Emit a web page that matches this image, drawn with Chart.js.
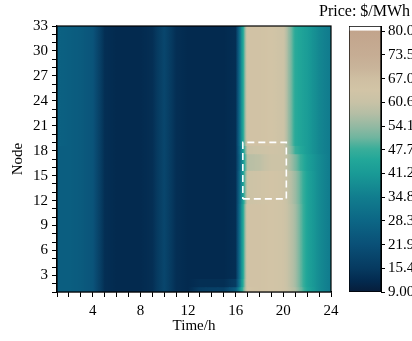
<!DOCTYPE html>
<html>
<head>
<meta charset="utf-8">
<script src="https://cdn.jsdelivr.net/npm/chart.js@4.4.1/dist/chart.umd.min.js"></script>
<style>
  html, body { margin: 0; padding: 0; background: #fff; overflow: hidden; }
  #wrap { position: relative; width: 412px; height: 341px; overflow: hidden; }
  #main { position: absolute; left: 0; top: 0; }
  #bar { position: absolute; left: 330px; top: 0; }
  #unit { position: absolute; left: 319px; top: 2px; font: 16px "Liberation Serif", serif; color: #000; white-space: nowrap; }
</style>
</head>
<body>
<div id="wrap">
  <canvas id="main" width="412" height="341"></canvas>
  <canvas id="bar" width="110" height="341"></canvas>
  <div id="unit">Price: $/MWh</div>
</div>
<script>
// hours and nodes
const hours = [1, 2, 3, 4, 5, 6, 7, 8, 9, 10, 11, 12, 13, 14, 15, 16, 17, 18, 19, 20, 21, 22, 23, 24];
const nodes = [1, 2, 3, 4, 5, 6, 7, 8, 9, 10, 11, 12, 13, 14, 15, 16, 17, 18, 19, 20, 21, 22, 23, 24, 25, 26, 27, 28, 29, 30, 31, 32, 33];

// price ($/MWh) per hour for groups of nodes
const priceNode1  = [26, 26, 25, 23, 13, 12, 12, 12, 13, 19, 13, 12, 16, 17, 17, 25, 64, 65, 64, 63, 57, 45, 38, 34];
const priceNode2  = [26, 26, 25, 23, 13, 12, 12, 12, 13, 19, 13, 12, 13, 13, 13, 16, 65, 65, 64, 63, 56, 44, 38, 34];
const priceLower  = [26, 26, 25, 23, 13, 12, 12, 12, 13, 19, 13, 12, 12, 12, 12, 13, 65, 65, 64, 63, 56, 44, 38, 34]; // nodes 3-11
const priceBoxLow = [26, 26, 25, 23, 13, 12, 12, 12, 13, 19, 13, 12, 12, 12, 12, 13, 62, 63, 64, 63, 55, 44, 38, 34]; // nodes 12-15
const priceBoxTop = [26, 26, 25, 23, 13, 12, 12, 12, 13, 19, 13, 12, 12, 12, 12, 13, 58, 59, 62, 62, 52, 43, 38, 34]; // nodes 16-17
const priceNode18 = [26, 26, 25, 23, 13, 12, 12, 12, 13, 19, 13, 12, 12, 12, 12, 13, 61, 62, 63, 62, 48, 42, 37, 34];
const priceUpper  = [27, 26, 25, 23, 13, 12, 12, 12, 13, 19, 13, 12, 12, 12, 12, 13, 65, 65, 64, 62, 46, 42, 37, 34]; // nodes 19-33

// highlighted window (dashed box)
const boxTimes = [16.6, 20.25];
const boxNodes = [12.2, 19.0];

// colour bar
const barRange = [9.0, 81.4];
const barTickValues = [9.00, 15.45, 21.91, 28.36, 34.82, 41.27, 47.73, 54.18, 60.64, 67.09, 73.55, 80.00];
const barTickLabels = ['9.00', '15.4', '21.9', '28.3', '34.8', '41.2', '47.7', '54.1', '60.6', '67.0', '73.5', '80.0'];

const cmapStops = [
  [9,    [7, 29, 58]],
  [12,   [3, 42, 79]],
  [15.4, [6, 58, 96]],
  [21.9, [10, 80, 119]],
  [28.3, [12, 102, 133]],
  [34.8, [17, 125, 142]],
  [41.2, [25, 154, 150]],
  [45,   [34, 167, 153]],
  [48,   [58, 174, 154]],
  [51,   [111, 181, 159]],
  [54.1, [147, 185, 162]],
  [57.5, [180, 190, 165]],
  [60.6, [200, 194, 166]],
  [64,   [210, 196, 166]],
  [67,   [207, 191, 162]],
  [70,   [201, 180, 154]],
  [73.5, [198, 173, 148]],
  [80,   [194, 164, 140]],
  [80.3, [255, 255, 255]]
];

const serif = '"Liberation Serif", "Times New Roman", serif';
const font15 = { family: serif, size: 15 };

function cmap(v) {
  if (v <= cmapStops[0][0]) return 'rgb(' + cmapStops[0][1].join(',') + ')';
  for (let i = 1; i < cmapStops.length; i++) {
    const [v1, c1] = cmapStops[i];
    if (v <= v1) {
      const [v0, c0] = cmapStops[i - 1];
      const f = (v - v0) / (v1 - v0);
      const c = c0.map((a, k) => Math.round(a + (c1[k] - a) * f));
      return 'rgb(' + c.join(',') + ')';
    }
  }
  return 'rgb(' + cmapStops[cmapStops.length - 1][1].join(',') + ')';
}

function rowFor(n) {
  if (n === 1) return priceNode1;
  if (n === 2) return priceNode2;
  if (n <= 11) return priceLower;
  if (n <= 15) return priceBoxLow;
  if (n <= 17) return priceBoxTop;
  if (n === 18) return priceNode18;
  return priceUpper;
}

// each cell shades smoothly toward its neighbours, like the bilinear map
function cellFill(ctx, n) {
  const chart = ctx.chart;
  if (!chart.chartArea || ctx.type !== 'data') return 'rgba(0,0,0,0)';
  const row = rowFor(n);
  const i = ctx.dataIndex;
  const xs = chart.scales.x;
  const x0 = xs.getPixelForValue(hours[i] - 0.5);
  const x1 = xs.getPixelForValue(hours[i] + 0.5);
  const v = row[i];
  const vl = i > 0 ? (row[i - 1] + v) / 2 : v;
  const vr = i < row.length - 1 ? (row[i + 1] + v) / 2 : v;
  const g = chart.ctx.createLinearGradient(x0, 0, x1, 0);
  for (let k = 0; k <= 12; k++) {
    const f = k / 12;
    const val = f < 0.5 ? vl + (v - vl) * f * 2 : v + (vr - v) * (f - 0.5) * 2;
    g.addColorStop(f, cmap(val));
  }
  return g;
}

function barFill(ctx) {
  const chart = ctx.chart;
  if (!chart.chartArea) return 'rgba(0,0,0,0)';
  const ys = chart.scales.y;
  const y0 = ys.getPixelForValue(barRange[0]);
  const y1 = ys.getPixelForValue(barRange[1]);
  const g = chart.ctx.createLinearGradient(0, y0, 0, y1);
  const span = barRange[1] - barRange[0];
  g.addColorStop(0, cmap(barRange[0]));
  cmapStops.forEach(([v]) => {
    if (v > barRange[0] && v < barRange[1]) g.addColorStop((v - barRange[0]) / span, cmap(v));
  });
  g.addColorStop(1, cmap(barRange[1]));
  return g;
}

const framePlugin = {
  id: 'frame',
  afterDraw(chart) {
    const { ctx, chartArea: a } = chart;
    ctx.save();
    ctx.strokeStyle = '#000';
    ctx.lineWidth = 1.2;
    ctx.strokeRect(a.left, a.top, a.right - a.left, a.bottom - a.top);
    ctx.restore();
  }
};

const heatSets = nodes.map(n => ({
  type: 'bar',
  label: 'Node ' + n,
  data: hours.map(h => ({ x: h, y: [n - 0.5, n + 0.5] })),
  grouped: false,
  barPercentage: 1,
  categoryPercentage: 1,
  borderWidth: 0,
  inflateAmount: 0.6,
  backgroundColor: ctx => cellFill(ctx, n)
}));

const boxSet = {
  type: 'line',
  label: 'window',
  order: -1,
  data: [
    { x: boxTimes[0], y: boxNodes[0] },
    { x: boxTimes[1], y: boxNodes[0] },
    { x: boxTimes[1], y: boxNodes[1] },
    { x: boxTimes[0], y: boxNodes[1] },
    { x: boxTimes[0], y: boxNodes[0] }
  ],
  borderColor: '#ffffff',
  borderWidth: 1.6,
  borderDash: [7, 4],
  pointRadius: 0,
  fill: false,
  tension: 0
};

new Chart(document.getElementById('main'), {
  type: 'bar',
  data: { datasets: [...heatSets, boxSet] },
  options: {
    responsive: false,
    animation: false,
    events: [],
    layout: { padding: { left: 0, top: 26, right: 81, bottom: 0 } },
    plugins: { legend: { display: false }, tooltip: { enabled: false } },
    scales: {
      x: {
        type: 'linear', min: 1, max: 24, offset: false,
        afterFit: s => { s.height = 49; },
        grid: { display: true, drawOnChartArea: false, drawTicks: true, tickLength: 5, color: '#000', offset: false },
        border: { display: true, color: '#000', width: 1.2 },
        ticks: { stepSize: 1, autoSkip: false, maxRotation: 0, padding: 5, color: '#000', font: font15,
                 callback: v => (v % 4 === 0 ? v : '') },
        title: { display: true, text: 'Time/h', color: '#000', font: font15, padding: { top: 0, bottom: 6 } }
      },
      y: {
        type: 'linear', min: 1, max: 33,
        afterFit: s => { s.width = 57; },
        grid: { display: true, drawOnChartArea: false, drawTicks: true, tickLength: 5, color: '#000' },
        border: { display: true, color: '#000', width: 1.2 },
        ticks: { stepSize: 1, autoSkip: false, padding: 4, color: '#000', font: font15,
                 callback: v => (v % 3 === 0 ? v : '') },
        title: { display: true, text: 'Node', color: '#000', font: font15, padding: { top: 9, bottom: 0 } }
      }
    }
  },
  plugins: [framePlugin]
});

new Chart(document.getElementById('bar'), {
  type: 'bar',
  data: {
    labels: ['Price'],
    datasets: [{
      data: [barRange],
      backgroundColor: barFill,
      borderColor: '#000',
      borderWidth: 1,
      borderSkipped: false,
      barPercentage: 1,
      categoryPercentage: 1
    }]
  },
  options: {
    responsive: false,
    animation: false,
    events: [],
    layout: { padding: { left: 19, top: 26, right: 0, bottom: 49 } },
    plugins: { legend: { display: false }, tooltip: { enabled: false } },
    scales: {
      x: { display: false },
      y: {
        position: 'right', min: barRange[0], max: barRange[1],
        afterFit: s => { s.width = 59; },
        afterBuildTicks: s => { s.ticks = barTickValues.map(v => ({ value: v })); },
        grid: { display: true, drawOnChartArea: false, tickLength: 4, color: '#000' },
        border: { display: true, color: '#000' },
        ticks: { autoSkip: false, padding: 3, color: '#000', font: font15,
                 callback: (v, i) => barTickLabels[i] }
      }
    }
  }
});
</script>
</body>
</html>
